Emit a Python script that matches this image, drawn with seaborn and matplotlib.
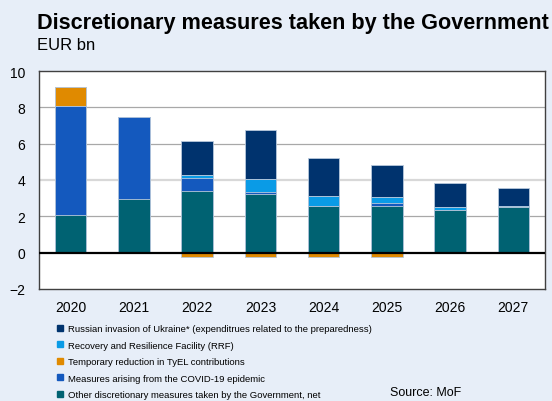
import matplotlib
matplotlib.use("Agg")
import matplotlib.pyplot as plt
from matplotlib.lines import Line2D
import numpy as np
import pandas as pd
import seaborn as sns

years = ["2020", "2021", "2022", "2023", "2024", "2025", "2026", "2027"]
other_net = [2.05, 2.94, 3.38, 3.21, 2.59, 2.59, 2.33, 2.51]
covid = [6.02, 4.51, 0.71, 0.15, 0.00, 0.14, 0.04, 0.02]
rrf = [0.00, 0.00, 0.20, 0.70, 0.55, 0.35, 0.14, 0.04]
tyel = [1.07, 0.00, -0.26, -0.26, -0.26, -0.26, 0.00, 0.00]
ukraine = [0.00, 0.00, 1.84, 2.71, 2.07, 1.76, 1.34, 0.99]

labels = {
    "ukraine": "Russian invasion of Ukraine* (expenditrues related to the preparedness)",
    "rrf": "Recovery and Resilience Facility (RRF)",
    "tyel": "Temporary reduction in TyEL contributions",
    "covid": "Measures arising from the COVID-19 epidemic",
    "other": "Other discretionary measures taken by the Government, net",
}
colors = {
    "ukraine": "#00336e",
    "rrf": "#0a9be6",
    "tyel": "#e08a00",
    "covid": "#1459be",
    "other": "#006272",
}

sns.set_theme(style="white")
plt.rcParams["font.family"] = ["Liberation Sans", "DejaVu Sans"]
plt.rcParams["text.color"] = "black"
plt.rcParams["xtick.color"] = "black"
plt.rcParams["ytick.color"] = "black"

df = pd.DataFrame({
    "year": years,
    "other": other_net,
    "covid": covid,
    "rrf": rrf,
    "tyel_pos": np.clip(tyel, 0, None),
    "tyel_neg": np.clip(tyel, None, 0),
    "ukraine": ukraine,
})

# positive stack from the bottom up; drawn top layer first as cumulative totals
stack = ["other", "covid", "rrf", "tyel_pos", "ukraine"]
stack_color = ["other", "covid", "rrf", "tyel", "ukraine"]
cum = df[stack].cumsum(axis=1)

bg = "#e7eef8"
fig = plt.figure(figsize=(5.52, 4.02), dpi=100, facecolor=bg)
ax = fig.add_axes([39 / 552, 1 - 290 / 402, 506 / 552, 218 / 402])
ax.set_facecolor("white")

for col, ckey in reversed(list(zip(stack, stack_color))):
    sns.barplot(x=df["year"], y=cum[col], order=years, color=colors[ckey],
                width=0.5, saturation=1, edgecolor="#b8c8dc", linewidth=0.6,
                ax=ax, zorder=3)
sns.barplot(x=df["year"], y=df["tyel_neg"], order=years, color=colors["tyel"],
            width=0.5, saturation=1, edgecolor="#b8c8dc", linewidth=0.6,
            ax=ax, zorder=3)

ax.set_ylim(-2, 10)
ax.set_xlim(-0.5, len(years) - 0.5)
ax.set_yticks(range(-2, 11, 2))
ax.set_xlabel("")
ax.set_ylabel("")
for y in [2, 4, 6, 8]:
    ax.axhline(y, color="#d8d8d8" if y == 4 else "#a8a8a8",
               lw=1.6 if y == 4 else 0.9, zorder=1)
ax.axhline(0, color="black", lw=1.6, zorder=4)
for s in ax.spines.values():
    s.set_color("#404040")
    s.set_linewidth(1.0)
ax.tick_params(axis="both", length=0, labelsize=10, colors="black")
ax.tick_params(axis="x", pad=8)
ax.tick_params(axis="y", pad=10)

fig.text(37 / 552, 1 - 29 / 402, "Discretionary measures taken by the Government",
         fontsize=15.6, fontweight="bold", va="baseline", ha="left")
fig.text(37 / 552, 1 - 50 / 402, "EUR bn", fontsize=12, va="baseline", ha="left")

order = ["ukraine", "rrf", "tyel", "covid", "other"]
handles = [Line2D([0], [0], marker="s", linestyle="none", markersize=4,
                  markerfacecolor=colors[k], markeredgecolor=colors[k])
           for k in order]
leg = fig.legend(handles, [labels[k] for k in order], loc="upper left",
                 bbox_to_anchor=(57 / 552, 1 - 325 / 402), frameon=False,
                 fontsize=6.8, handlelength=0.7, handletextpad=0.45,
                 labelspacing=0.8, borderaxespad=0, borderpad=0)

fig.text(390 / 552, 1 - 399 / 402, "Source: MoF", fontsize=9,
         va="bottom", ha="left")

fig.savefig("out.png", dpi=100, facecolor=bg)
